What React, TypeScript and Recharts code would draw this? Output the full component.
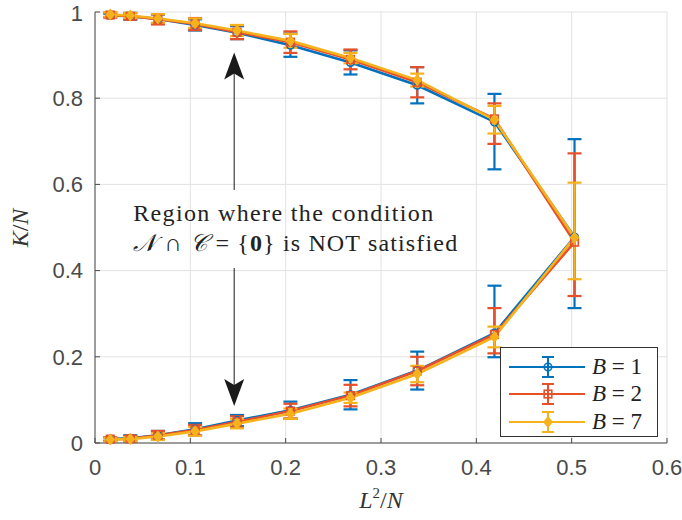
import React from "react"
import {
  LineChart,
  Line,
  XAxis,
  YAxis,
  CartesianGrid,
  ErrorBar,
  ReferenceLine,
  ReferenceDot,
} from "recharts"

// L^2/N positions, upper branch runs out to the apex, lower branch comes back
const xUpper = [0.016, 0.037, 0.066, 0.105, 0.149, 0.205, 0.268, 0.338, 0.419, 0.503]
const xLower = [0.419, 0.338, 0.268, 0.205, 0.149, 0.105, 0.066, 0.037, 0.016]

const xTicks = [0, 0.1, 0.2, 0.3, 0.4, 0.5, 0.6]
const yTicks = [0, 0.2, 0.4, 0.6, 0.8, 1]

// B = 1
const b1Upper = [0.992, 0.99, 0.984, 0.97, 0.952, 0.923, 0.883, 0.83, 0.745, 0.478]
const b1UpperLo = [0.004, 0.008, 0.01, 0.013, 0.015, 0.027, 0.028, 0.042, 0.11, 0.165]
const b1UpperHi = [0.004, 0.008, 0.01, 0.013, 0.015, 0.027, 0.028, 0.042, 0.065, 0.227]
const b1Lower = [0.255, 0.168, 0.112, 0.076, 0.052, 0.032, 0.018, 0.011, 0.009]
const b1LowerLo = [0.056, 0.044, 0.034, 0.02, 0.013, 0.014, 0.01, 0.007, 0.004]
const b1LowerHi = [0.11, 0.044, 0.034, 0.02, 0.013, 0.014, 0.01, 0.007, 0.004]

// B = 2
const b2Upper = [0.993, 0.99, 0.983, 0.972, 0.953, 0.93, 0.89, 0.837, 0.752, 0.466]
const b2UpperLo = [0.006, 0.007, 0.012, 0.014, 0.016, 0.025, 0.023, 0.035, 0.058, 0.125]
const b2UpperHi = [0.006, 0.007, 0.012, 0.014, 0.016, 0.025, 0.023, 0.035, 0.036, 0.206]
const b2Lower = [0.252, 0.167, 0.11, 0.074, 0.049, 0.03, 0.018, 0.01, 0.009]
const b2LowerLo = [0.044, 0.033, 0.025, 0.017, 0.013, 0.012, 0.01, 0.006, 0.004]
const b2LowerHi = [0.061, 0.033, 0.025, 0.017, 0.013, 0.012, 0.01, 0.006, 0.004]

// B = 7
const b7Upper = [0.994, 0.992, 0.985, 0.974, 0.957, 0.933, 0.893, 0.842, 0.75, 0.477]
const b7UpperLo = [0.005, 0.006, 0.01, 0.011, 0.013, 0.016, 0.012, 0.015, 0.032, 0.097]
const b7UpperHi = [0.005, 0.006, 0.01, 0.011, 0.013, 0.016, 0.012, 0.015, 0.032, 0.127]
const b7Lower = [0.246, 0.16, 0.105, 0.068, 0.045, 0.027, 0.015, 0.009, 0.008]
const b7LowerLo = [0.024, 0.019, 0.012, 0.012, 0.011, 0.01, 0.008, 0.005, 0.004]
const b7LowerHi = [0.024, 0.019, 0.012, 0.012, 0.011, 0.01, 0.008, 0.005, 0.004]

const seriesNames = ["1", "2", "7"]

const BLUE = "#0072BD"
const RED = "#E6502A"
const YELLOW = "#F6B21C"

function buildSeries(up: number[], upLo: number[], upHi: number[], low: number[], lowLo: number[], lowHi: number[]) {
  const pts = xUpper.map((x, i) => ({ x, y: up[i], err: [upLo[i], upHi[i]] }))
  xLower.forEach((x, i) => pts.push({ x, y: low[i], err: [lowLo[i], lowHi[i]] }))
  return pts
}

const s1 = buildSeries(b1Upper, b1UpperLo, b1UpperHi, b1Lower, b1LowerLo, b1LowerHi)
const s2 = buildSeries(b2Upper, b2UpperLo, b2UpperHi, b2Lower, b2LowerLo, b2LowerHi)
const s7 = buildSeries(b7Upper, b7UpperLo, b7UpperHi, b7Lower, b7LowerLo, b7LowerHi)

const serifStyle = { fontFamily: "'Liberation Serif', 'DejaVu Serif', serif" }
const sans = "'Liberation Sans', Arial, sans-serif"

function Circle({ cx, cy, color }: any) {
  return <circle cx={cx} cy={cy} r={3.8} fill="none" stroke={color} strokeWidth={1.6} />
}
function Square({ cx, cy, color }: any) {
  return <rect x={cx - 3.8} y={cy - 3.8} width={7.6} height={7.6} fill="none" stroke={color} strokeWidth={1.6} />
}
function Diamond({ cx, cy, color }: any) {
  return <polygon points={`${cx},${cy - 6} ${cx + 5},${cy} ${cx},${cy + 6} ${cx - 5},${cy}`} fill={color} />
}

const markerFor = [
  (p: any) => <Circle key={p.key} cx={p.cx} cy={p.cy} color={BLUE} />,
  (p: any) => <Square key={p.key} cx={p.cx} cy={p.cy} color={RED} />,
  (p: any) => <Diamond key={p.key} cx={p.cx} cy={p.cy} color={YELLOW} />,
]

function ArrowHead({ cx, cy, dir }: any) {
  const s = dir === "up" ? 1 : -1
  return (
    <path
      d={`M${cx},${cy} L${cx + 10},${cy + s * 27} L${cx},${cy + s * 21} L${cx - 10},${cy + s * 27} Z`}
      fill="#1a1a1a"
    />
  )
}

function Annotation({ cx, cy }: any) {
  return (
    <g fill="#222">
      <text x={cx} y={cy} fontSize={24} style={serifStyle} textLength={300}>
        Region where the condition
      </text>
      <text x={cx} y={cy + 30} fontSize={24} style={serifStyle} textLength={324}>
        <tspan fontStyle="italic">𝒩</tspan>
        <tspan> ∩ </tspan>
        <tspan fontStyle="italic">𝒞</tspan>
        <tspan> = {"{"}</tspan>
        <tspan fontWeight="bold">0</tspan>
        <tspan>{"}"} is NOT satisfied</tspan>
      </text>
    </g>
  )
}

function LegendBox() {
  const colors = [BLUE, RED, YELLOW]
  const rows = [19, 46, 74]
  return (
    <svg
      width={158}
      height={90}
      style={{ position: "absolute", left: 500, top: 347, background: "white", border: "1px solid #333", boxSizing: "border-box" }}
    >
      {seriesNames.map((name, i) => {
        const y = rows[i]
        const c = colors[i]
        return (
          <g key={name}>
            <line x1={8} x2={84} y1={y} y2={y} stroke={c} strokeWidth={2.2} />
            <line x1={47} x2={47} y1={y - 10} y2={y + 10} stroke={c} strokeWidth={2} />
            <line x1={41} x2={53} y1={y - 10} y2={y - 10} stroke={c} strokeWidth={2} />
            <line x1={41} x2={53} y1={y + 10} y2={y + 10} stroke={c} strokeWidth={2} />
            {i === 0 && <Circle cx={47} cy={y} color={c} />}
            {i === 1 && <Square cx={47} cy={y} color={c} />}
            {i === 2 && <Diamond cx={47} cy={y} color={c} />}
            <text x={91} y={y + 7} fontSize={23} fill="#222" style={serifStyle}>
              <tspan fontStyle="italic">B</tspan>
              <tspan> = {name}</tspan>
            </text>
          </g>
        )
      })}
    </svg>
  )
}

const tickStyle = { fontFamily: sans, fontSize: 22, fill: "#4a4a4a" }
const axisColor = "#4a4a4a"

export default function App() {
  const all = [s1, s2, s7]
  const colors = [BLUE, RED, YELLOW]
  return (
    <div style={{ position: "absolute", left: 0, top: 0, width: 682, height: 520, background: "white" }}>
      <LineChart width={682} height={520} margin={{ top: 12, right: 15, left: 0, bottom: 0 }}>
        <CartesianGrid stroke="#e2e2e2" strokeWidth={1} />
        <XAxis
          type="number"
          dataKey="x"
          domain={[0, 0.6]}
          ticks={xTicks}
          height={77}
          tickSize={-5}
          tickMargin={21}
          tick={tickStyle}
          stroke={axisColor}
          allowDataOverflow
          label={{
            content: () => (
              <text x={381} y={508} textAnchor="middle" fontSize={24} fill="#333" style={serifStyle}>
                <tspan fontStyle="italic">L</tspan>
                <tspan fontSize={15} dy={-10}>2</tspan>
                <tspan dy={10}>/</tspan>
                <tspan fontStyle="italic">N</tspan>
              </text>
            ),
          }}
        />
        <XAxis
          xAxisId="top"
          orientation="top"
          type="number"
          domain={[0, 0.6]}
          ticks={xTicks}
          height={0}
          tickSize={-5}
          tickFormatter={() => ""}
          stroke={axisColor}
        />
        <YAxis
          type="number"
          domain={[0, 1]}
          ticks={yTicks}
          width={95}
          tickSize={-5}
          tickMargin={17}
          tick={tickStyle}
          stroke={axisColor}
          label={{
            content: () => (
              <text x={28} y={228} transform="rotate(-90 28 228)" textAnchor="middle" fontSize={24} fill="#333" style={serifStyle}>
                <tspan fontStyle="italic">K</tspan>
                <tspan>/</tspan>
                <tspan fontStyle="italic">N</tspan>
              </text>
            ),
          }}
        />
        <YAxis
          yAxisId="right"
          orientation="right"
          type="number"
          domain={[0, 1]}
          ticks={yTicks}
          width={0}
          tickSize={-5}
          tickFormatter={() => ""}
          stroke={axisColor}
        />
        {all.map((data, i) => (
          <Line
            key={seriesNames[i]}
            data={data}
            dataKey="y"
            stroke={colors[i]}
            strokeWidth={2.6}
            dot={markerFor[i]}
            activeDot={false}
            isAnimationActive={false}
          >
            <ErrorBar dataKey="err" direction="y" width={7} stroke={colors[i]} strokeWidth={2.2} isAnimationActive={false} />
          </Line>
        ))}
        <ReferenceLine segment={[{ x: 0.146, y: 0.87 }, { x: 0.146, y: 0.587 }]} stroke="#1a1a1a" strokeWidth={1} />
        <ReferenceLine segment={[{ x: 0.146, y: 0.406 }, { x: 0.146, y: 0.12 }]} stroke="#1a1a1a" strokeWidth={1} />
        <ReferenceDot x={0.146} y={0.906} shape={(p: any) => <ArrowHead cx={p.cx} cy={p.cy} dir="up" />} />
        <ReferenceDot x={0.146} y={0.086} shape={(p: any) => <ArrowHead cx={p.cx} cy={p.cy} dir="down" />} />
        <ReferenceDot x={0.04} y={0.516} shape={(p: any) => <Annotation cx={p.cx} cy={p.cy} />} />
      </LineChart>
      <LegendBox />
    </div>
  )
}
